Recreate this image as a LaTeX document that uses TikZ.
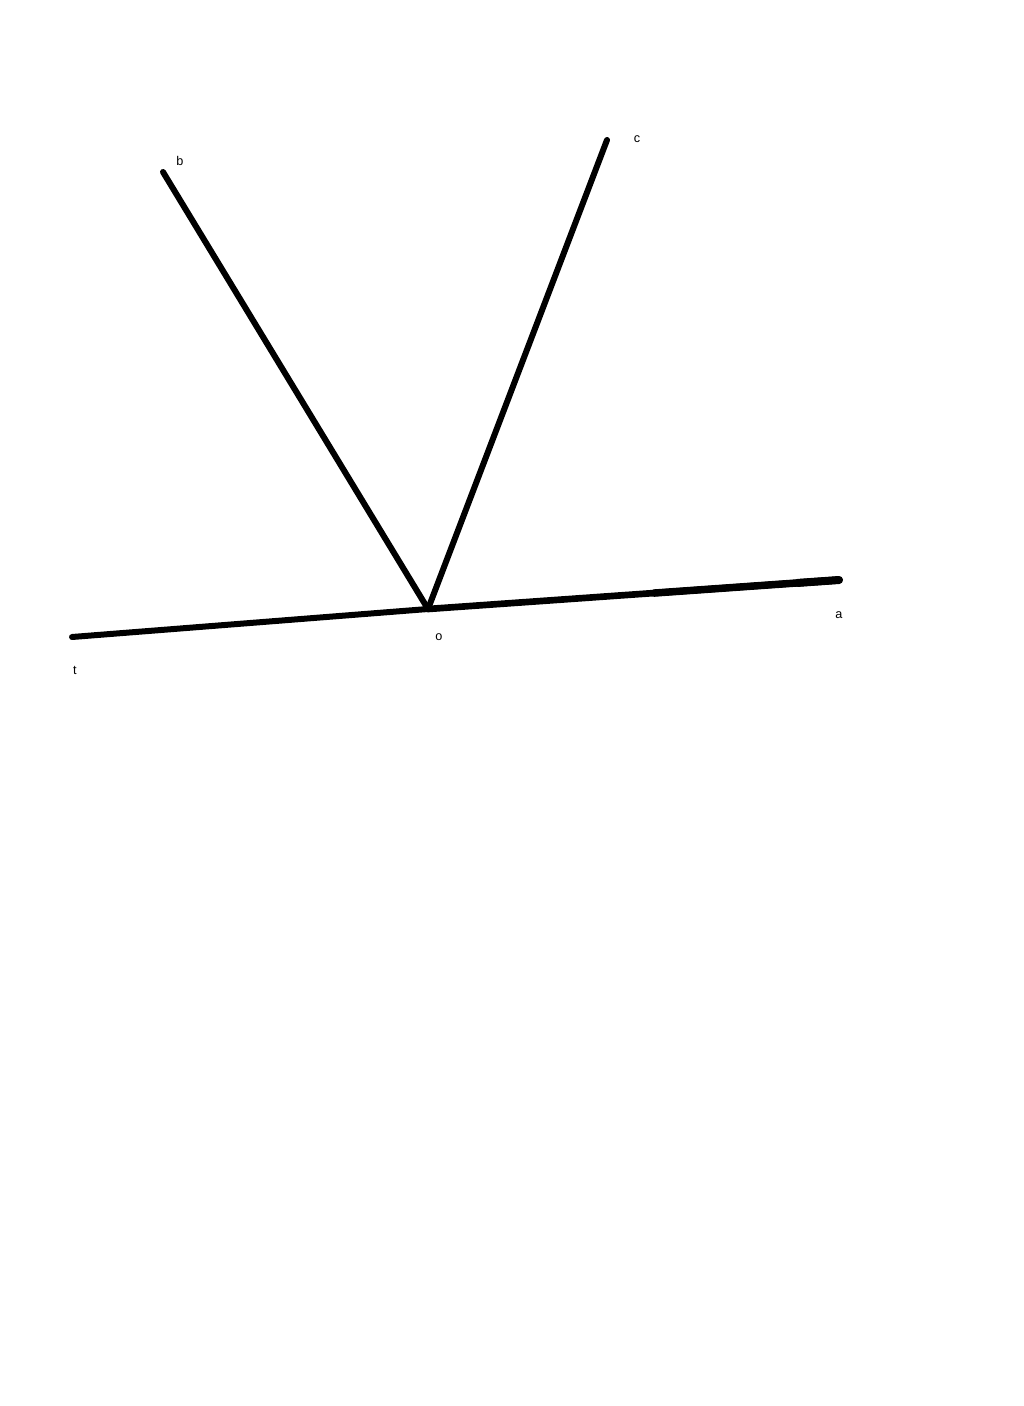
\documentclass[tikz,border=0pt]{standalone}
\usepackage{fontspec}
\setmainfont{Liberation Sans}
\usetikzlibrary{calc}
\begin{document}
\begin{tikzpicture}[x=0.75pt,y=-0.75pt,
  ray/.style={line width=4.5pt,line cap=round,black},
  lbl/.style={font=\fontsize{9.5}{11}\selectfont,inner sep=0pt}]
\useasboundingbox (0,0) rectangle (1024,1406);
\fill[white] (0,0) rectangle (1024,1406);
\coordinate (T) at (72,637);
\coordinate (O) at (428,609);
\coordinate (A) at (839,580);
\coordinate (B) at (163,172);
\coordinate (C) at (607,140);
\draw[ray] (T) -- (O);
\draw[ray,line width=5pt] (O) -- (A);
\draw[ray,line width=5.6pt] ($(O)!0.55!(A)$) -- (A);
\draw[ray,line width=6pt] ($(O)!0.9!(A)$) -- (A);
\draw[ray] (O) -- (B);
\draw[ray] (O) -- (C);
\node[lbl] (lb) at (180,161) {b};
\node[lbl] (lc) at (637,139) {c};
\node[lbl] (lo) at (439,637) {o};
\node[lbl] (la) at (839,615) {a};
\node[lbl] (lt) at (75,670) {t};
\end{tikzpicture}
\end{document}
